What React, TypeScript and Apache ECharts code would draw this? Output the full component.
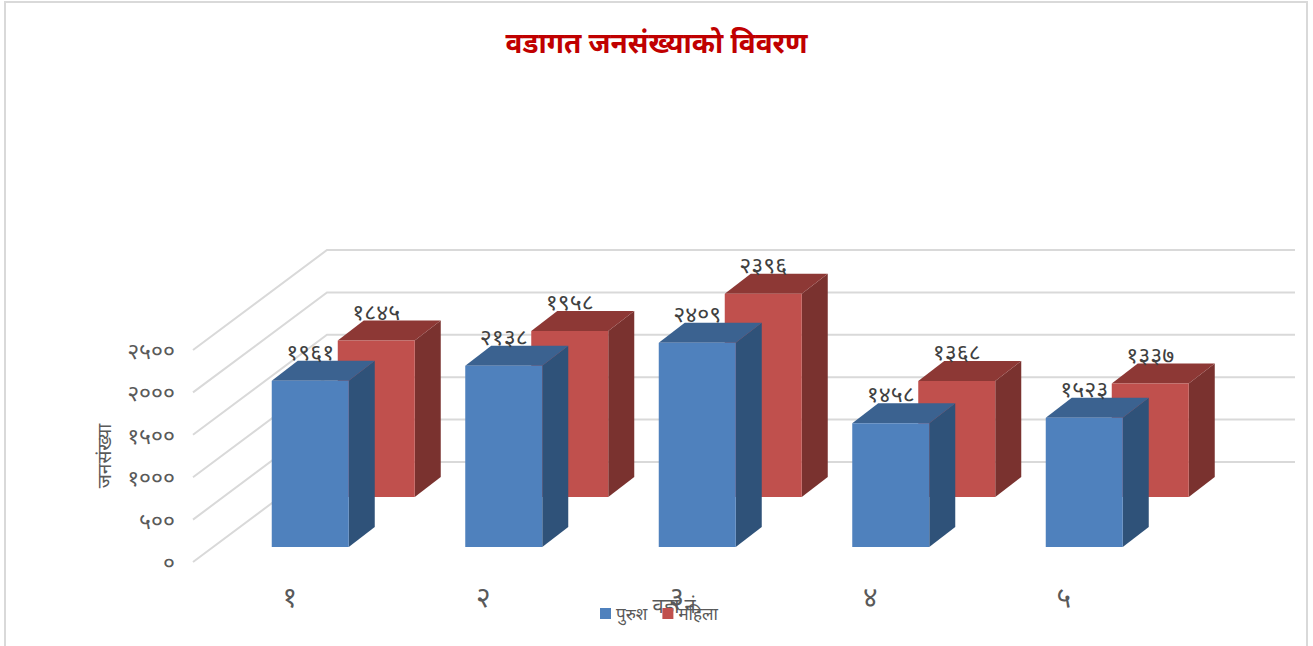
import React, { useEffect, useRef } from "react";
import * as echarts from "echarts";

const titleText = "वडागत जनसंख्याको विवरण";
const categories = ["१", "२", "३", "४", "५"];
const maleValues = [1961, 2138, 2409, 1458, 1523];
const femaleValues = [1845, 1958, 2396, 1368, 1337];
const axisTicks = [0, 500, 1000, 1500, 2000, 2500];
const maleName = "पुरुश";
const femaleName = "महिला";
const xTitle = "वडा नं.";
const yTitle = "जनसंख्या";

const FONT = "'Noto Sans', 'Noto Sans Devanagari', 'Lohit Devanagari', sans-serif";
const digits = "०१२३४५६७८९";
const toNepali = (v: number) => String(v).replace(/\d/g, (d) => digits[Number(d)]);

const BAR_W = 77;
const DEPTH_X = 26;
const DEPTH_Y = 20;

function barRenderer(xOffset: number, yOffset: number, front: string, top: string, side: string) {
  return (params: any, api: any) => {
    const cat = api.value(0);
    const val = api.value(1);
    const [cx, y0] = api.coord([cat, 0]);
    const [, yv] = api.coord([cat, val]);
    const x = cx + xOffset;
    const bottom = y0 + yOffset;
    const topY = yv + yOffset;
    const right = x + BAR_W;
    return {
      type: "group",
      children: [
        { type: "polygon", shape: { points: [[right, bottom], [right + DEPTH_X, bottom - DEPTH_Y], [right + DEPTH_X, topY - DEPTH_Y], [right, topY]] }, style: { fill: side } },
        { type: "polygon", shape: { points: [[x, topY], [x + DEPTH_X, topY - DEPTH_Y], [right + DEPTH_X, topY - DEPTH_Y], [right, topY]] }, style: { fill: top } },
        { type: "rect", shape: { x, y: topY, width: BAR_W, height: bottom - topY }, style: { fill: front } },
        { type: "text", x: x + BAR_W / 2, y: topY - 30, style: { text: toNepali(val), fill: "#404040", fontSize: 23, fontFamily: FONT, align: "center", verticalAlign: "middle" } },
      ],
    };
  };
}

function wallRenderer(params: any, api: any) {
  const [x0, y] = api.coord([0, api.value(0)]);
  const left = x0 - 96.75;
  return {
    type: "polyline",
    shape: { points: [[left, y], [left + 134, y - 100], [left + 1102, y - 100]] },
    style: { stroke: "#d9d9d9", lineWidth: 2, fill: "none" },
  };
}

export default function App() {
  const ref = useRef<HTMLDivElement>(null);
  useEffect(() => {
    document.body.style.margin = "0";
    const chart = echarts.init(ref.current!, null, { renderer: "svg" });
    chart.setOption({
      animation: false,
      backgroundColor: "#ffffff",
      textStyle: { fontFamily: FONT },
      title: {
        text: titleText,
        left: "center",
        top: 23,
        textStyle: { color: "#c00000", fontSize: 28, fontWeight: "bold", fontFamily: FONT },
      },
      legend: {
        data: [maleName, femaleName],
        left: 600,
        top: 605,
        padding: 0,
        itemWidth: 11,
        itemHeight: 11,
        itemGap: 15,
        icon: "rect",
        textStyle: { color: "#595959", fontSize: 17, fontFamily: FONT },
      },
      grid: { left: 193, top: 350, width: 967.5, height: 212 },
      xAxis: {
        type: "category",
        data: categories,
        name: xTitle,
        nameLocation: "middle",
        nameGap: 33,
        nameMoveOverlap: false,
        nameTextStyle: { color: "#595959", fontSize: 20 },
        axisLine: { show: false },
        axisTick: { show: false },
        axisLabel: { color: "#595959", fontSize: 28, margin: 20 },
      },
      yAxis: {
        type: "value",
        min: 0,
        max: 2500,
        interval: 500,
        name: yTitle,
        nameLocation: "middle",
        nameGap: 80,
        nameMoveOverlap: false,
        nameRotate: 90,
        nameTextStyle: { color: "#595959", fontSize: 19 },
        splitLine: { show: false },
        axisLine: { show: false },
        axisTick: { show: false },
        axisLabel: { color: "#595959", fontSize: 23, margin: 18, formatter: (v: number) => toNepali(v) },
      },
      series: [
        {
          type: "custom",
          name: "grid",
          data: axisTicks.map((v) => [v]),
          encode: { y: 0 },
          renderItem: wallRenderer,
          silent: true,
          z: 1,
        },
        {
          type: "custom",
          name: femaleName,
          data: femaleValues.map((v, i) => [i, v]),
          encode: { x: 0, y: 1 },
          itemStyle: { color: "#c0504d" },
          renderItem: barRenderer(48, -65, "#c0504d", "#8d3835", "#7a322f"),
          z: 2,
        },
        {
          type: "custom",
          name: maleName,
          data: maleValues.map((v, i) => [i, v]),
          encode: { x: 0, y: 1 },
          itemStyle: { color: "#4f81bd" },
          renderItem: barRenderer(-18, -15, "#4f81bd", "#3b6290", "#2f5279"),
          z: 3,
        },
      ],
      graphic: [
        {
          type: "polyline",
          silent: true,
          shape: { points: [[5, 646], [5, 2], [1307, 2], [1307, 646]] },
          style: { stroke: "#d9d9d9", lineWidth: 2, fill: "none" },
        },
      ],
    });
    return () => chart.dispose();
  }, []);
  return <div ref={ref} style={{ width: 1313, height: 646 }} />;
}
